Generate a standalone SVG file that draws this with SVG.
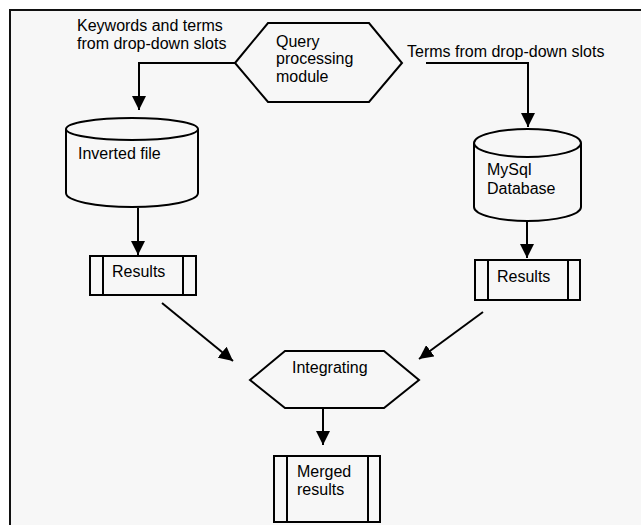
<svg xmlns="http://www.w3.org/2000/svg" width="641" height="525" viewBox="0 0 641 525">
  <defs>
    <marker id="arrow" markerUnits="userSpaceOnUse" markerWidth="14" markerHeight="14" refX="14" refY="7" orient="auto">
      <path d="M0,0 L14,7 L0,14 z" fill="#000"/>
    </marker>
    <style>
      .shape { fill: none; stroke: #000; stroke-width: 2; }
      .conn { fill: none; stroke: #000; stroke-width: 2; marker-end: url(#arrow); }
      text { font-family: "Liberation Sans", Arial, sans-serif; font-size: 16px; fill: #000; }
    </style>
  </defs>

  <rect x="0" y="0" width="641" height="525" fill="#fff"/>
  <!-- outer frame: only its top and left edges fall inside the canvas -->
  <rect x="10" y="10" width="660" height="560" fill="#f7f7f7" stroke="#111" stroke-width="2"/>

  <g id="connectors">
    <path class="conn" d="M235,63 H139 V110"/>
    <path class="conn" d="M426,63 H528 V127"/>
    <path class="conn" d="M138,208 V255"/>
    <path class="conn" d="M527,221 V258"/>
    <path class="conn" d="M162,303 L233,361"/>
    <path class="conn" d="M483,312 L419,359"/>
    <path class="conn" d="M323,408 V445"/>
  </g>

  <g id="label-left">
    <text x="77" y="31">Keywords and terms</text>
    <text x="77" y="49">from drop-down slots</text>
  </g>
  <g id="label-right">
    <text x="407" y="57">Terms from drop-down slots</text>
  </g>

  <g id="query-module">
    <polygon class="shape" points="235,63 268,23 369,23 402,63 369,102 268,102"/>
    <text x="276" y="47">Query</text>
    <text x="276" y="64">processing</text>
    <text x="276" y="82">module</text>
  </g>

  <g id="inverted-file">
    <path class="shape" d="M66,129 V193 A66,14 0 0 0 198,193 V129"/>
    <ellipse class="shape" cx="132" cy="129" rx="66" ry="11"/>
    <text x="78" y="159">Inverted file</text>
  </g>

  <g id="mysql-db">
    <path class="shape" d="M474,143 V207 A53.5,14 0 0 0 581,207 V143"/>
    <ellipse class="shape" cx="527.5" cy="143" rx="53.5" ry="14"/>
    <text x="487" y="175">MySql</text>
    <text x="487" y="194">Database</text>
  </g>

  <g id="results-left">
    <rect class="shape" x="90" y="256" width="106" height="39"/>
    <line class="shape" x1="103" y1="256" x2="103" y2="295"/>
    <line class="shape" x1="183" y1="256" x2="183" y2="295"/>
    <text x="112" y="277">Results</text>
  </g>

  <g id="results-right">
    <rect class="shape" x="475" y="260" width="105" height="40"/>
    <line class="shape" x1="488" y1="260" x2="488" y2="300"/>
    <line class="shape" x1="568" y1="260" x2="568" y2="300"/>
    <text x="497" y="282">Results</text>
  </g>

  <g id="integrating">
    <polygon class="shape" points="250,380 285,351 384,351 419,380 384,408 285,408"/>
    <text x="292" y="373">Integrating</text>
  </g>

  <g id="merged-results">
    <rect class="shape" x="274" y="456" width="106" height="66"/>
    <line class="shape" x1="287" y1="456" x2="287" y2="522"/>
    <line class="shape" x1="368" y1="456" x2="368" y2="522"/>
    <text x="297" y="477">Merged</text>
    <text x="297" y="495">results</text>
  </g>
</svg>
